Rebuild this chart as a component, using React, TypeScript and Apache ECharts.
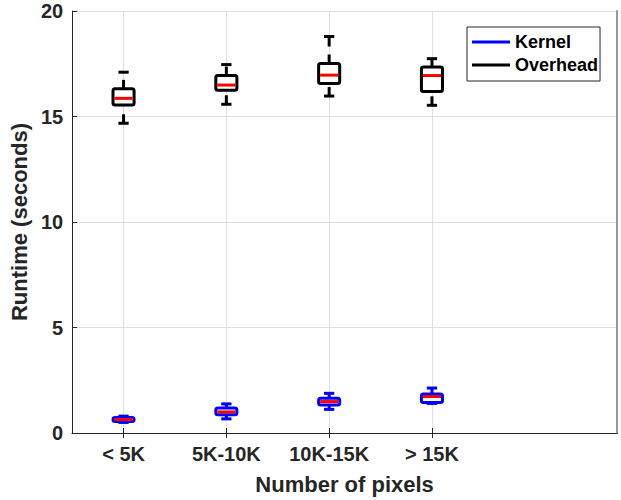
import React, { useEffect, useRef } from "react";
import * as echarts from "echarts";

const categories = ["< 5K", "5K-10K", "10K-15K", "> 15K"];
const positions = [1, 2, 3, 4];

// [lower whisker, q1, median, q3, upper whisker]
const kernelLow = [0.5, 0.67, 1.12, 1.4];
const kernelQ1 = [0.55, 0.86, 1.33, 1.45];
const kernelMed = [0.64, 1.0, 1.49, 1.73];
const kernelQ3 = [0.74, 1.18, 1.65, 1.85];
const kernelHigh = [0.8, 1.38, 1.88, 2.13];

const overLow = [14.68, 15.58, 15.97, 15.53];
const overQ1 = [15.54, 16.24, 16.56, 16.19];
const overMed = [15.86, 16.49, 16.96, 16.94];
const overQ3 = [16.31, 16.94, 17.51, 17.35];
const overHigh = [17.1, 17.46, 18.79, 17.74];

const yTicks = [0, 5, 10, 15, 20];

const FONT = "Liberation Sans, Arial, sans-serif";
const TXT = "#262626";
const BOX_W = 0.205;
const CAP_W = 0.1;

function build(low: number[], q1: number[], med: number[], q3: number[], high: number[]) {
  return positions.map((p, i) => [p, low[i], q1[i], med[i], q3[i], high[i]]);
}

function makeRenderItem(color: string) {
  return (params: any, api: any) => {
    const x = api.value(0);
    const c = (v: number) => api.coord([x, v]);
    const pLow = c(api.value(1));
    const pQ1 = c(api.value(2));
    const pMed = c(api.value(3));
    const pQ3 = c(api.value(4));
    const pHigh = c(api.value(5));
    const bw = api.size([BOX_W, 0])[0];
    const cw = api.size([CAP_W, 0])[0];
    const cx = pLow[0];
    const lw = 3;
    const whiskerStyle = { stroke: color, lineWidth: lw, lineDash: [9, 8], lineCap: "butt" };
    return {
      type: "group",
      children: [
        { type: "line", shape: { x1: cx, y1: pLow[1], x2: cx, y2: pQ1[1] }, style: whiskerStyle },
        { type: "line", shape: { x1: cx, y1: pQ3[1], x2: cx, y2: pHigh[1] }, style: whiskerStyle },
        { type: "line", shape: { x1: cx - cw / 2, y1: pLow[1], x2: cx + cw / 2, y2: pLow[1] }, style: { stroke: color, lineWidth: lw } },
        { type: "line", shape: { x1: cx - cw / 2, y1: pHigh[1], x2: cx + cw / 2, y2: pHigh[1] }, style: { stroke: color, lineWidth: lw } },
        {
          type: "rect",
          shape: { x: cx - bw / 2, y: pQ3[1], width: bw, height: pQ1[1] - pQ3[1], r: 2 },
          style: { stroke: color, lineWidth: lw, fill: "#ffffff", lineJoin: "round" },
        },
        {
          type: "line",
          shape: { x1: cx - bw / 2 + 1.5, y1: pMed[1], x2: cx + bw / 2 - 1.5, y2: pMed[1] },
          style: { stroke: "#ff0000", lineWidth: 3 },
        },
      ],
    };
  };
}

export default function App() {
  const ref = useRef<HTMLDivElement>(null);
  useEffect(() => {
    if (!ref.current) return;
    const chart = echarts.init(ref.current, undefined, { renderer: "svg" });
    const xCommon = {
      type: "value",
      min: 0.5,
      max: 5.8,
      axisTick: { show: true, inside: true, length: 5, customValues: positions, lineStyle: { color: TXT } },
    };
    chart.setOption({
      animation: false,
      backgroundColor: "#ffffff",
      textStyle: { fontFamily: FONT },
      grid: { left: 72, top: 11, right: 4, bottom: 64, containLabel: false },
      legend: {
        orient: "vertical",
        left: 467,
        top: 27,
        padding: [6, 2, 7, 5],
        itemGap: 5,
        itemWidth: 38,
        itemHeight: 3,
        icon: "rect",
        backgroundColor: "#ffffff",
        borderColor: TXT,
        borderWidth: 1,
        borderRadius: 0,
        textStyle: { fontFamily: FONT, fontWeight: "bold", fontSize: 18, color: "#000", padding: [0, 0, 0, 0] },
        data: ["Kernel", "Overhead"],
      },
      xAxis: [
        {
          ...xCommon,
          position: "bottom",
          name: "Number of pixels",
          nameLocation: "middle",
          nameGap: 40,
          nameTextStyle: { fontFamily: FONT, fontWeight: "bold", fontSize: 22, color: TXT },
          axisLine: { show: true, lineStyle: { color: TXT, width: 1 } },
          axisLabel: {
            customValues: positions,
            margin: 11,
            fontFamily: FONT,
            fontWeight: "bold",
            fontSize: 20,
            color: TXT,
            formatter: (v: number) => categories[positions.indexOf(Math.round(v))] ?? "",
          },
          splitLine: { show: true, lineStyle: { color: "#dfdfdf", width: 1 } },
        },
        {
          ...xCommon,
          position: "top",
          axisLine: { show: true, lineStyle: { color: TXT, width: 1 } },
          axisLabel: { show: false },
          splitLine: { show: false },
        },
      ],
      yAxis: [
        {
          type: "value",
          min: 0,
          max: 20,
          interval: 5,
          name: "Runtime (seconds)",
          nameLocation: "middle",
          nameGap: 33,
          nameTextStyle: { fontFamily: FONT, fontWeight: "bold", fontSize: 22, color: TXT },
          axisLine: { show: true, lineStyle: { color: TXT, width: 1 } },
          axisTick: { show: true, inside: true, length: 5, lineStyle: { color: TXT } },
          axisLabel: {
            margin: 9,
            fontFamily: FONT,
            fontWeight: "bold",
            fontSize: 20,
            color: TXT,
            formatter: (v: number) => (yTicks.includes(v) ? String(v) : ""),
          },
          splitLine: { show: true, lineStyle: { color: "#dfdfdf", width: 1 } },
        },
        {
          type: "value",
          min: 0,
          max: 20,
          interval: 5,
          position: "right",
          axisLine: { show: true, lineStyle: { color: "#9a9a9a", width: 2 } },
          axisTick: { show: false },
          axisLabel: { show: false },
          splitLine: { show: false },
        },
      ],
      series: [
        {
          name: "Kernel",
          type: "custom",
          xAxisIndex: 0,
          yAxisIndex: 0,
          itemStyle: { color: "#0000ff" },
          renderItem: makeRenderItem("#0000ff"),
          encode: { x: 0, y: [1, 2, 3, 4, 5] },
          data: build(kernelLow, kernelQ1, kernelMed, kernelQ3, kernelHigh),
          z: 3,
        },
        {
          name: "Overhead",
          type: "custom",
          xAxisIndex: 0,
          yAxisIndex: 0,
          itemStyle: { color: "#000000" },
          renderItem: makeRenderItem("#000000"),
          encode: { x: 0, y: [1, 2, 3, 4, 5] },
          data: build(overLow, overQ1, overMed, overQ3, overHigh),
          z: 3,
        },
      ],
    });
    return () => chart.dispose();
  }, []);
  return <div ref={ref} style={{ width: 621, height: 500, position: "absolute", left: 0, top: 0 }} />;
}
